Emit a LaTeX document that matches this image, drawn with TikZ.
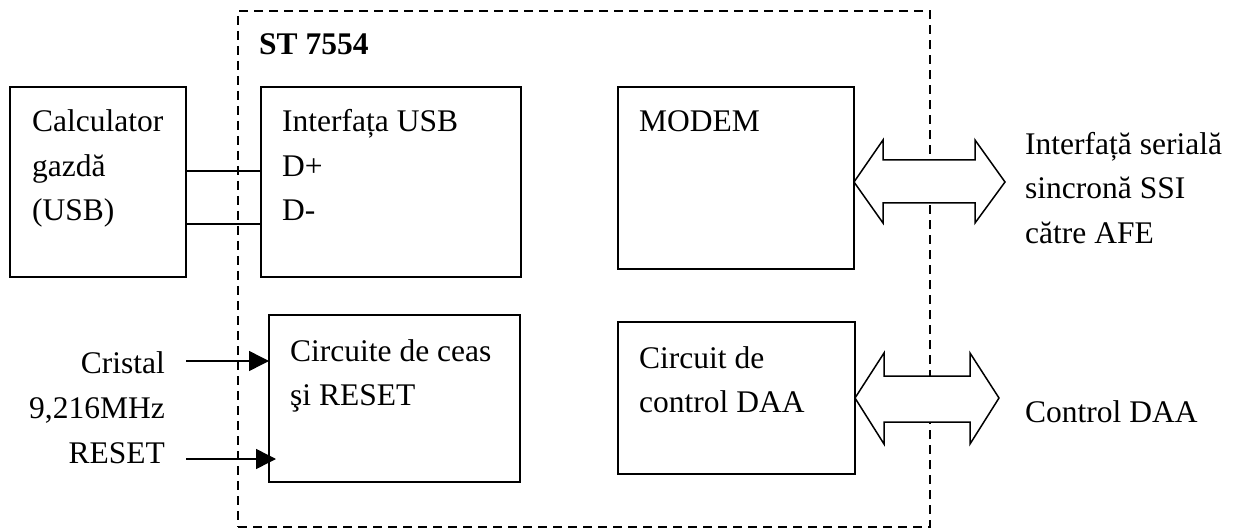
\documentclass[tikz,border=0pt]{standalone}
\usepackage{fontspec}
\setmainfont{Liberation Serif}
\usetikzlibrary{arrows.meta,calc}
\begin{document}
\begin{tikzpicture}[x=1pt,y=-1pt,
  blk/.style={draw,line width=1.8pt,inner sep=0pt,outer sep=0pt,anchor=north west},
  chipframe/.style={draw,line width=2.3pt,dash pattern=on 9pt off 6pt,inner sep=0pt,outer sep=0pt,anchor=north west},
  txt/.style={inner sep=0pt,anchor=base west,align=left,font=\fontsize{31.5}{44.5}\selectfont},
  rtxt/.style={inner sep=0pt,anchor=base east,align=right,font=\fontsize{31.5}{45}\selectfont},
  wire/.style={line width=1.5pt},
  inarrow/.style={line width=1.5pt,-{Triangle[length=20pt,width=20pt]}},
  bus/.style={draw,line width=1.5pt,fill=white,line join=miter}]

\useasboundingbox (0,0) rectangle (1236,529);

% frame of the chip
\node[chipframe,minimum width=692pt,minimum height=516pt] (chip) at (238,11) {};

% blocks
\node[blk,minimum width=176pt,minimum height=190pt] (pc) at (10,87) {};
\node[blk,minimum width=260pt,minimum height=190pt] (usb) at (261,87) {};
\node[blk,minimum width=236pt,minimum height=182pt] (modem) at (618,87) {};
\node[blk,minimum width=251pt,minimum height=167pt] (clk) at (269,315) {};
\node[blk,minimum width=237pt,minimum height=152pt] (daa) at (618,322) {};

% texts (multi-line nodes are anchored at the baseline of their last line)
\node[txt] (chipname) at (259,55) {\bfseries ST 7554};
\node[txt] (pctext) at (32,221) {Calculator\\gazdă\\(USB)};
\node[txt] (usbtext) at (282,221) {Interfața USB\\D+\\D-};
\node[txt] (modemtext) at (639,132) {MODEM};
\node[txt] (clktext) at (290,405.5) {Circuite de ceas\\şi RESET};
\node[txt] (daatext) at (639,412.5) {Circuit de\\control DAA};
\node[txt] (ssitext) at (1025,243.5) {Interfață serială\\sincronă SSI\\către AFE};
\node[txt] (daaout) at (1025,422) {Control DAA};
\node[rtxt] (inlabels) at (165,463) {Cristal\\9,216MHz\\RESET};

% USB wires
\coordinate (dplus) at (0,171);
\coordinate (dminus) at (0,224);
\draw[wire] (pc.east |- dplus) -- (usb.west |- dplus);
\draw[wire] (pc.east |- dminus) -- (usb.west |- dminus);

% clock and reset inputs
\coordinate (xtal) at (186,361);
\coordinate (rst) at (186,459);
\draw[inarrow] (xtal) -- (clk.west |- xtal);
\draw[inarrow] (rst) -- ([xshift=7pt]clk.west |- rst);

% bus arrows
\coordinate (b1) at (modem.east |- 0,182);
\draw[bus] (b1) -- ++(29,-42) -- ++(0,20) -- ++(92,0) -- ++(0,-20) -- ++(30,42)
  -- ++(-30,41) -- ++(0,-20) -- ++(-92,0) -- ++(0,20) -- cycle;
\coordinate (b2) at (daa.east |- 0,398);
\draw[bus] (b2) -- ++(29,-45) -- ++(0,23) -- ++(86,0) -- ++(0,-23) -- ++(29,45)
  -- ++(-29,46) -- ++(0,-22) -- ++(-86,0) -- ++(0,22) -- cycle;
\end{tikzpicture}
\end{document}
